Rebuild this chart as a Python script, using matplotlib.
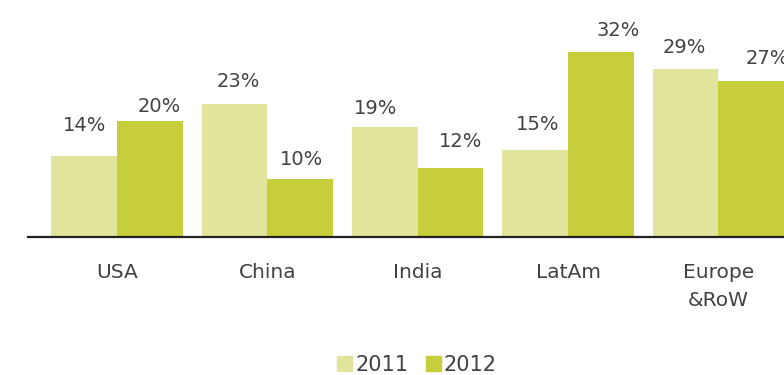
import numpy as np
import matplotlib.pyplot as plt
from matplotlib.patches import Patch

regions = ['USA', 'China', 'India', 'LatAm', 'Europe\n&RoW']
share_2011 = [14, 23, 19, 15, 29]
share_2012 = [20, 10, 12, 32, 27]

# hand-placed label nudges (pixels from bar top centre to label centre)
nudge_2011 = [(0, 31), (4, 23), (-9, 19), (2, 26), (-1, 22)]
nudge_2012 = [(9, 15), (1, 20), (10, 26), (17, 22), (16, 22)]

light = '#e1e59b'
dark = '#c6ce3b'
txt = '#424242'

fig = plt.figure(figsize=(7.84, 3.75), dpi=100)
ax = fig.add_axes([28 / 784, 138 / 375, 756 / 784, 237 / 375])

x = np.arange(len(regions))
w = 0.437
b1 = ax.bar(x - w / 2, share_2011, w, color=light, linewidth=0)
b2 = ax.bar(x + w / 2, share_2012, w, color=dark, linewidth=0)

for bars, vals, nudge in [(b1, share_2011, nudge_2011), (b2, share_2012, nudge_2012)]:
    for r, v, (dx, dy) in zip(bars, vals, nudge):
        ax.annotate('%d%%' % v, (r.get_x() + r.get_width() / 2, v),
                    xytext=(dx, dy), textcoords='offset pixels',
                    ha='center', va='center', fontsize=14, color=txt)

ax.set_xlim(-0.593, 4.437)
ax.set_ylim(0, 41)
ax.set_yticks([])
ax.set_xticks(x)
ax.set_xticklabels(regions, fontsize=14.5, color=txt, linespacing=1.55)
ax.tick_params(axis='x', length=0, pad=19)
for s in ['top', 'right', 'left']:
    ax.spines[s].set_visible(False)
ax.spines['bottom'].set_color('#222222')
ax.spines['bottom'].set_linewidth(1.6)

handles = [Patch(color=light, label='2011'), Patch(color=dark, label='2012')]
leg = fig.legend(handles=handles, loc='center', bbox_to_anchor=(417 / 784, 1 - 365 / 375),
                 ncol=2, frameon=False, fontsize=15, handlelength=0.72, handleheight=0.72,
                 handletextpad=0.15, columnspacing=0.85, borderpad=0)
for t in leg.get_texts():
    t.set_color(txt)

fig.savefig('out.png', dpi=100)
